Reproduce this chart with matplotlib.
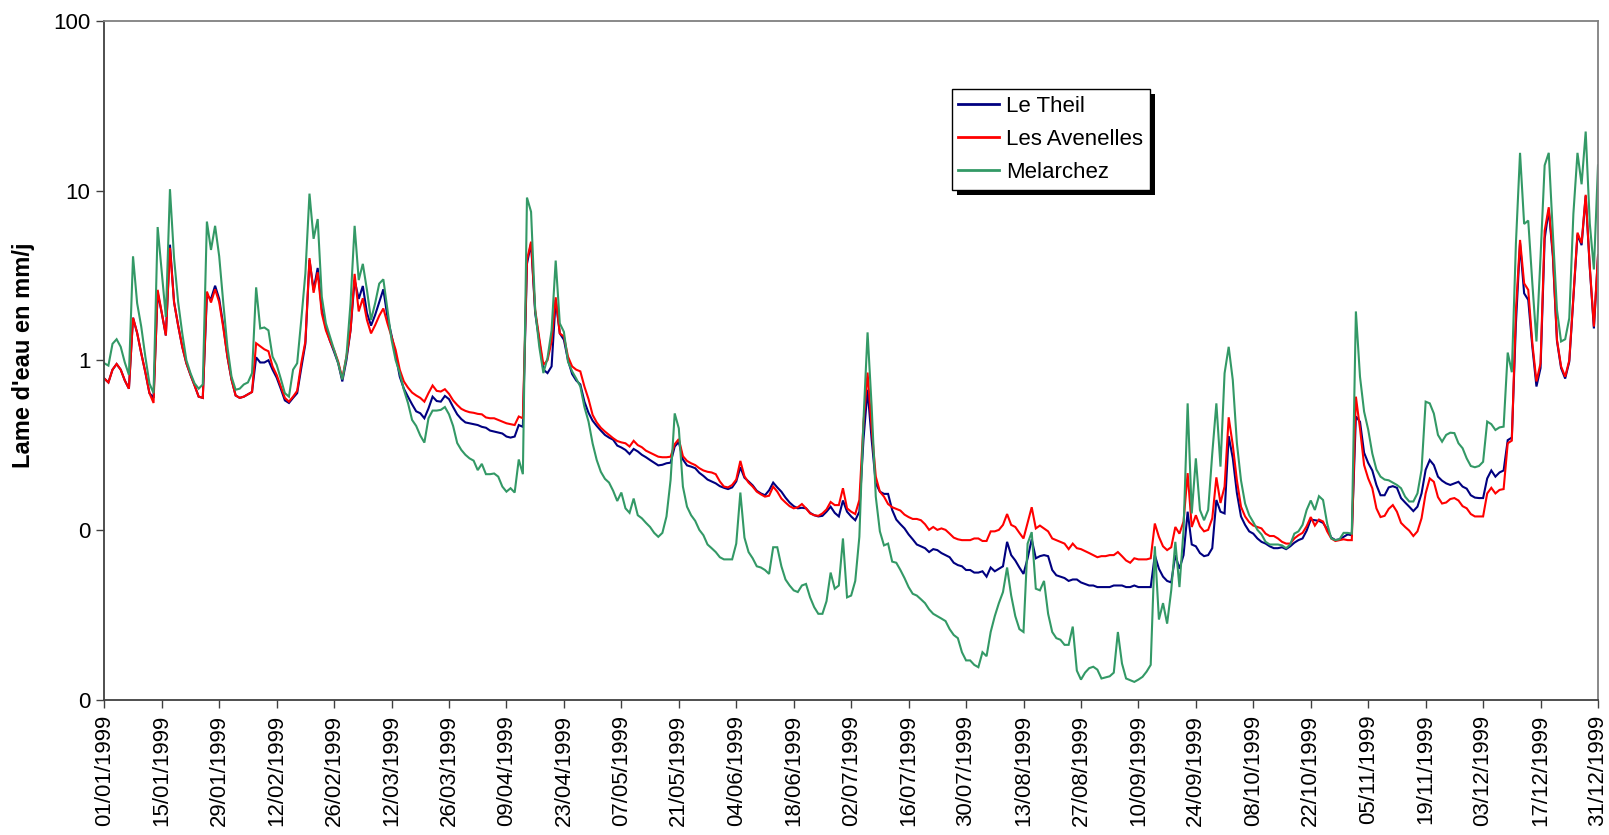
import numpy as np
import matplotlib
matplotlib.use("Agg")
import matplotlib.pyplot as plt
from matplotlib.patches import Rectangle
from matplotlib.ticker import NullLocator

# ---------------- data (daily values, mm/j, 1999) ----------------
le_theil = [
    0.78, 0.74, 0.88, 0.95, 0.88, 0.76, 0.68, 1.78, 1.45, 1.1,
    0.85, 0.64, 0.6, 2.5, 1.9, 1.4, 4.8, 2.2, 1.6, 1.2,
    0.96, 0.82, 0.71, 0.61, 0.6, 2.4, 2.3, 2.75, 2.3, 1.6,
    1.05, 0.77, 0.62, 0.6, 0.61, 0.63, 0.65, 1.04, 0.97, 0.97,
    1.0, 0.88, 0.79, 0.68, 0.58, 0.56, 0.6, 0.64, 0.9, 1.25,
    3.9, 2.6, 3.5, 2.0, 1.55, 1.3, 1.12, 0.96, 0.75, 1.0,
    1.5, 2.97, 2.3, 2.74, 1.9, 1.6, 1.85, 2.2, 2.62, 1.8,
    1.4, 1.08, 0.8, 0.68, 0.61, 0.55, 0.5, 0.487, 0.455, 0.52,
    0.61, 0.575, 0.57, 0.616, 0.59, 0.53, 0.48, 0.45, 0.43, 0.425,
    0.42, 0.415, 0.405, 0.4, 0.385, 0.38, 0.375, 0.37, 0.355, 0.35,
    0.355, 0.415, 0.405, 3.7, 4.9, 1.9, 1.3, 0.88, 0.84, 0.92,
    2.27, 1.44, 1.32, 1.0, 0.83, 0.76, 0.72, 0.57, 0.49, 0.44,
    0.41, 0.385, 0.363, 0.35, 0.34, 0.314, 0.306, 0.296, 0.28, 0.3,
    0.29, 0.277, 0.268, 0.258, 0.249, 0.24, 0.242, 0.247, 0.249, 0.31,
    0.33, 0.26, 0.24, 0.236, 0.231, 0.217, 0.208, 0.198, 0.193, 0.188,
    0.181, 0.177, 0.174, 0.178, 0.193, 0.234, 0.203, 0.193, 0.183, 0.17,
    0.164, 0.16, 0.171, 0.19, 0.178, 0.168, 0.155, 0.145, 0.138, 0.134,
    0.135, 0.134, 0.126, 0.122, 0.12, 0.121, 0.128, 0.137, 0.126, 0.12,
    0.149, 0.128, 0.12, 0.114, 0.128, 0.34, 0.67, 0.34, 0.188, 0.168,
    0.163, 0.163, 0.131, 0.115, 0.108, 0.102, 0.094, 0.088, 0.082, 0.08,
    0.078, 0.074, 0.077, 0.076, 0.073, 0.071, 0.069, 0.064, 0.062, 0.061,
    0.058, 0.058, 0.056, 0.056, 0.057, 0.053, 0.06, 0.057, 0.059, 0.061,
    0.085, 0.071, 0.066, 0.06, 0.055, 0.068, 0.088, 0.068, 0.07, 0.071,
    0.07, 0.058, 0.054, 0.053, 0.052, 0.05, 0.051, 0.051, 0.049, 0.048,
    0.047, 0.047, 0.046, 0.046, 0.046, 0.046, 0.047, 0.047, 0.047, 0.046,
    0.046, 0.047, 0.046, 0.046, 0.046, 0.046, 0.071, 0.059, 0.053, 0.05,
    0.049, 0.071, 0.059, 0.071, 0.128, 0.082, 0.08, 0.073, 0.07, 0.071,
    0.078, 0.15, 0.128, 0.125, 0.357, 0.265, 0.165, 0.12, 0.107, 0.098,
    0.095, 0.089, 0.085, 0.083, 0.08, 0.078, 0.078, 0.079, 0.077, 0.08,
    0.084, 0.087, 0.089, 0.099, 0.115, 0.114, 0.113, 0.11, 0.101, 0.09,
    0.087, 0.088, 0.091, 0.094, 0.093, 0.466, 0.434, 0.285, 0.248, 0.224,
    0.184, 0.16, 0.16, 0.178, 0.181, 0.177, 0.154, 0.145, 0.137, 0.129,
    0.137, 0.164, 0.226, 0.258, 0.241, 0.206, 0.195, 0.188, 0.184, 0.188,
    0.192, 0.18, 0.175, 0.16, 0.155, 0.154, 0.154, 0.201, 0.224, 0.206,
    0.218, 0.224, 0.338, 0.35, 1.65, 4.9, 2.48, 2.27, 1.2, 0.7,
    0.9, 5.2, 7.7, 4.1, 1.3, 0.9, 0.78, 0.98, 2.3, 5.5,
    4.77, 9.3, 3.5, 1.54, 4.1,
]

les_avenelles = [
    0.78, 0.74, 0.88, 0.95, 0.88, 0.76, 0.68, 1.78, 1.45, 1.1,
    0.85, 0.64, 0.56, 2.6, 1.9, 1.4, 4.6, 2.2, 1.6, 1.2,
    0.96, 0.82, 0.71, 0.61, 0.6, 2.54, 2.19, 2.62, 2.2, 1.55,
    1.05, 0.77, 0.62, 0.6, 0.61, 0.63, 0.65, 1.26, 1.21, 1.16,
    1.13, 0.92, 0.82, 0.7, 0.6, 0.57, 0.61, 0.66, 0.96, 1.29,
    4.0, 2.5, 3.3, 1.89, 1.5, 1.3, 1.15, 0.98, 0.78, 1.05,
    1.5, 3.23, 1.94, 2.32, 1.73, 1.44, 1.61, 1.83, 2.02, 1.65,
    1.38, 1.15, 0.88, 0.75, 0.69, 0.645, 0.62, 0.6, 0.57, 0.64,
    0.71, 0.66, 0.654, 0.675, 0.634, 0.58, 0.545, 0.517, 0.503, 0.494,
    0.49, 0.483, 0.48, 0.46, 0.455, 0.455, 0.445, 0.435, 0.425, 0.42,
    0.415, 0.466, 0.455, 3.9, 5.0, 1.98, 1.35, 0.94, 1.0, 1.29,
    2.35, 1.44, 1.38, 1.05, 0.92, 0.88, 0.86, 0.7, 0.59, 0.476,
    0.43, 0.4, 0.38, 0.363, 0.347, 0.334, 0.328, 0.324, 0.31, 0.335,
    0.316, 0.307, 0.293, 0.285, 0.277, 0.27, 0.268, 0.268, 0.27, 0.32,
    0.343, 0.272, 0.255, 0.247, 0.241, 0.231, 0.224, 0.22, 0.218, 0.213,
    0.193, 0.18, 0.178, 0.184, 0.198, 0.255, 0.207, 0.19, 0.18, 0.168,
    0.162, 0.157, 0.159, 0.18, 0.168, 0.153, 0.145, 0.138, 0.134, 0.136,
    0.142, 0.134, 0.125, 0.122, 0.121, 0.125, 0.132, 0.146, 0.14, 0.14,
    0.176, 0.134, 0.128, 0.124, 0.15, 0.424, 0.846, 0.397, 0.206, 0.168,
    0.157, 0.142, 0.136, 0.133, 0.13, 0.123, 0.119, 0.116, 0.116, 0.114,
    0.108, 0.1, 0.104, 0.1, 0.102, 0.1, 0.095, 0.09, 0.088, 0.087,
    0.087, 0.087, 0.089, 0.089, 0.086, 0.086, 0.098, 0.098, 0.1, 0.107,
    0.124, 0.107, 0.104, 0.096, 0.089, 0.11, 0.136, 0.102, 0.106, 0.102,
    0.098, 0.089, 0.087, 0.085, 0.083, 0.077, 0.083, 0.078, 0.077, 0.075,
    0.073, 0.071, 0.069, 0.07, 0.07, 0.071, 0.071, 0.074, 0.07, 0.066,
    0.064, 0.068, 0.067, 0.067, 0.067, 0.068, 0.109, 0.091, 0.08, 0.076,
    0.079, 0.104, 0.095, 0.112, 0.216, 0.104, 0.122, 0.105, 0.098, 0.1,
    0.117, 0.204, 0.144, 0.18, 0.461, 0.316, 0.196, 0.137, 0.12, 0.111,
    0.106, 0.104, 0.102, 0.095, 0.092, 0.092, 0.089, 0.085, 0.083, 0.083,
    0.089, 0.093, 0.096, 0.105, 0.119, 0.106, 0.115, 0.112, 0.098, 0.089,
    0.086, 0.087, 0.088, 0.087, 0.087, 0.61, 0.396, 0.241, 0.201, 0.176,
    0.134, 0.119, 0.121, 0.133, 0.14, 0.128, 0.11, 0.104, 0.099, 0.092,
    0.098, 0.117, 0.164, 0.201, 0.192, 0.156, 0.143, 0.145, 0.152, 0.154,
    0.149, 0.138, 0.134, 0.124, 0.12, 0.12, 0.12, 0.164, 0.177, 0.164,
    0.172, 0.174, 0.324, 0.336, 1.98, 5.12, 2.84, 2.6, 1.26, 0.75,
    0.96, 5.8, 7.98, 4.3, 1.32, 0.92, 0.8, 1.0, 2.37, 5.65,
    4.9, 9.45, 3.56, 1.58, 4.17,
]

melarchez = [
    0.96, 0.93, 1.25, 1.33, 1.2, 0.97, 0.82, 4.1, 2.17, 1.58,
    1.05, 0.73, 0.64, 6.1, 3.3, 1.8, 10.2, 4.0, 2.2, 1.44,
    1.0, 0.84, 0.73, 0.68, 0.72, 6.57, 4.47, 6.2, 4.1, 2.17,
    1.2, 0.8, 0.67, 0.68, 0.72, 0.74, 0.84, 2.69, 1.54, 1.56,
    1.5, 1.05, 0.94, 0.78, 0.64, 0.61, 0.88, 0.96, 1.73, 3.25,
    9.6, 5.2, 6.8, 2.37, 1.65, 1.38, 1.15, 0.96, 0.77, 1.05,
    2.17, 6.2, 2.97, 3.7, 2.6, 1.73, 2.17, 2.83, 3.0, 1.98,
    1.32, 1.0, 0.84, 0.67, 0.56, 0.445, 0.41, 0.36, 0.327, 0.455,
    0.505, 0.505, 0.51, 0.53, 0.48, 0.41, 0.325, 0.296, 0.277, 0.264,
    0.256, 0.225, 0.245, 0.213, 0.213, 0.215, 0.206, 0.18, 0.168, 0.176,
    0.166, 0.26, 0.213, 9.1, 7.5, 1.98, 1.2, 0.84, 1.03, 1.5,
    3.87, 1.65, 1.47, 0.98, 0.86, 0.78, 0.7, 0.53, 0.435, 0.323,
    0.258, 0.22, 0.2, 0.19, 0.17, 0.148, 0.166, 0.134, 0.126, 0.153,
    0.122, 0.117, 0.11, 0.104, 0.096, 0.091, 0.096, 0.12, 0.197, 0.486,
    0.397, 0.18, 0.137, 0.122, 0.113, 0.1, 0.093, 0.082, 0.078, 0.074,
    0.069, 0.067, 0.067, 0.067, 0.083, 0.166, 0.09, 0.074, 0.068, 0.061,
    0.06, 0.058, 0.055, 0.079, 0.079, 0.061, 0.051, 0.047, 0.044, 0.043,
    0.047, 0.048, 0.04, 0.035, 0.032, 0.032, 0.038, 0.056, 0.045, 0.047,
    0.089, 0.04, 0.041, 0.05, 0.091, 0.44, 1.46, 0.53, 0.157, 0.098,
    0.081, 0.083, 0.065, 0.064, 0.058, 0.052, 0.046, 0.042, 0.041, 0.039,
    0.037, 0.034, 0.032, 0.031, 0.03, 0.029, 0.026, 0.024, 0.023, 0.019,
    0.017, 0.017, 0.016, 0.0155, 0.019, 0.018, 0.025, 0.031, 0.037, 0.043,
    0.06, 0.041, 0.031, 0.026, 0.025, 0.083, 0.097, 0.045, 0.044, 0.05,
    0.032, 0.025, 0.023, 0.0225, 0.021, 0.021, 0.0269, 0.0148, 0.0131, 0.0144,
    0.0153, 0.0156, 0.015, 0.0133, 0.0135, 0.0137, 0.0144, 0.025, 0.0163, 0.0133,
    0.013, 0.0127, 0.0131, 0.0136, 0.0146, 0.016, 0.08, 0.0296, 0.037, 0.028,
    0.044, 0.085, 0.046, 0.1, 0.557, 0.125, 0.264, 0.131, 0.114, 0.131,
    0.282, 0.557, 0.236, 0.838, 1.2, 0.765, 0.325, 0.196, 0.143, 0.122,
    0.111, 0.1, 0.094, 0.085, 0.082, 0.082, 0.082, 0.081, 0.078, 0.082,
    0.095, 0.098, 0.107, 0.131, 0.149, 0.131, 0.158, 0.15, 0.109, 0.089,
    0.087, 0.088, 0.096, 0.096, 0.095, 1.94, 0.8, 0.498, 0.39, 0.282,
    0.227, 0.206, 0.198, 0.196, 0.19, 0.184, 0.176, 0.157, 0.147, 0.147,
    0.164, 0.226, 0.57, 0.557, 0.485, 0.363, 0.331, 0.363, 0.374, 0.372,
    0.324, 0.303, 0.264, 0.238, 0.234, 0.238, 0.252, 0.435, 0.42, 0.388,
    0.402, 0.406, 1.11, 0.85, 4.9, 16.7, 6.36, 6.66, 2.84, 1.29,
    4.08, 14.1, 16.7, 5.6, 1.98, 1.29, 1.33, 1.77, 7.3, 16.7,
    10.9, 22.3, 6.4, 3.43, 14.1,
]

series_names = ["Le Theil", "Les Avenelles", "Melarchez"]
series_colors = ["#000080", "#FF0000", "#339966"]

tick_labels = [
    "01/01/1999", "15/01/1999", "29/01/1999", "12/02/1999", "26/02/1999",
    "12/03/1999", "26/03/1999", "09/04/1999", "23/04/1999", "07/05/1999",
    "21/05/1999", "04/06/1999", "18/06/1999", "02/07/1999", "16/07/1999",
    "30/07/1999", "13/08/1999", "27/08/1999", "10/09/1999", "24/09/1999",
    "08/10/1999", "22/10/1999", "05/11/1999", "19/11/1999", "03/12/1999",
    "17/12/1999", "31/12/1999",
]
y_ticks = [0.01, 0.1, 1, 10, 100]
y_tick_labels = ["0", "0", "1", "10", "100"]
y_label = "Lame d'eau en mm/j"

# ---------------- figure ----------------
plt.rcParams["font.family"] = ["Liberation Sans", "DejaVu Sans"]
W, H = 1609, 835
fig = plt.figure(figsize=(W / 100, H / 100), dpi=100)
left, right, top, bottom = 104.3, 1598.0, 21.0, 699.5
ax = fig.add_axes([left / W, 1 - bottom / H, (right - left) / W, (bottom - top) / H])

days = np.arange(len(le_theil))
for vals, name, col in zip([le_theil, les_avenelles, melarchez], series_names, series_colors):
    ax.plot(days, vals, color=col, lw=1.5, label=name, solid_joinstyle="miter")

ax.set_yscale("log")
ax.set_ylim(0.01, 100)
ax.set_xlim(0, 364)
ax.set_yticks(y_ticks)
ax.set_yticklabels(y_tick_labels)
ax.yaxis.set_minor_locator(NullLocator())
ax.set_xticks(np.arange(0, 365, 14))
ax.set_xticklabels(tick_labels, rotation=90)

ax.tick_params(axis="both", direction="out", length=6, width=1.0,
               labelsize=16, color="#404040", labelcolor="black")
ax.tick_params(axis="y", pad=4)
ax.tick_params(axis="x", pad=5)

for side in ["left", "bottom"]:
    ax.spines[side].set_color("#404040")
    ax.spines[side].set_linewidth(1.3)
for side in ["top", "right"]:
    ax.spines[side].set_color("#808080")
    ax.spines[side].set_linewidth(1.3)

ax.set_ylabel(y_label, fontsize=17, fontweight="bold")
ax.yaxis.set_label_coords((35 - left) / (right - left), (bottom - 355) / (bottom - top))

leg = ax.legend(loc="upper left", bbox_to_anchor=(951.7 / W, 1 - 89 / H),
                bbox_transform=fig.transFigure, fontsize=16, frameon=True,
                fancybox=False, edgecolor="black", framealpha=1,
                borderpad=0.3, labelspacing=0.55, handlelength=1.85,
                handletextpad=0.3, borderaxespad=0)
leg.get_frame().set_linewidth(1.0)
for line in leg.get_lines():
    line.set_linewidth(2.0)

fig.canvas.draw()
bb = leg.get_window_extent()
inv = fig.transFigure.inverted()
(x0, y0), (x1, y1) = inv.transform([[bb.x0, bb.y0], [bb.x1, bb.y1]])
shadow = Rectangle((x0 + 5 / W, y0 - 5 / H), x1 - x0, y1 - y0,
                   transform=fig.transFigure, facecolor="black",
                   edgecolor="none", zorder=4.9, clip_on=False)
ax.add_artist(shadow)

fig.savefig("out.png", dpi=100)
